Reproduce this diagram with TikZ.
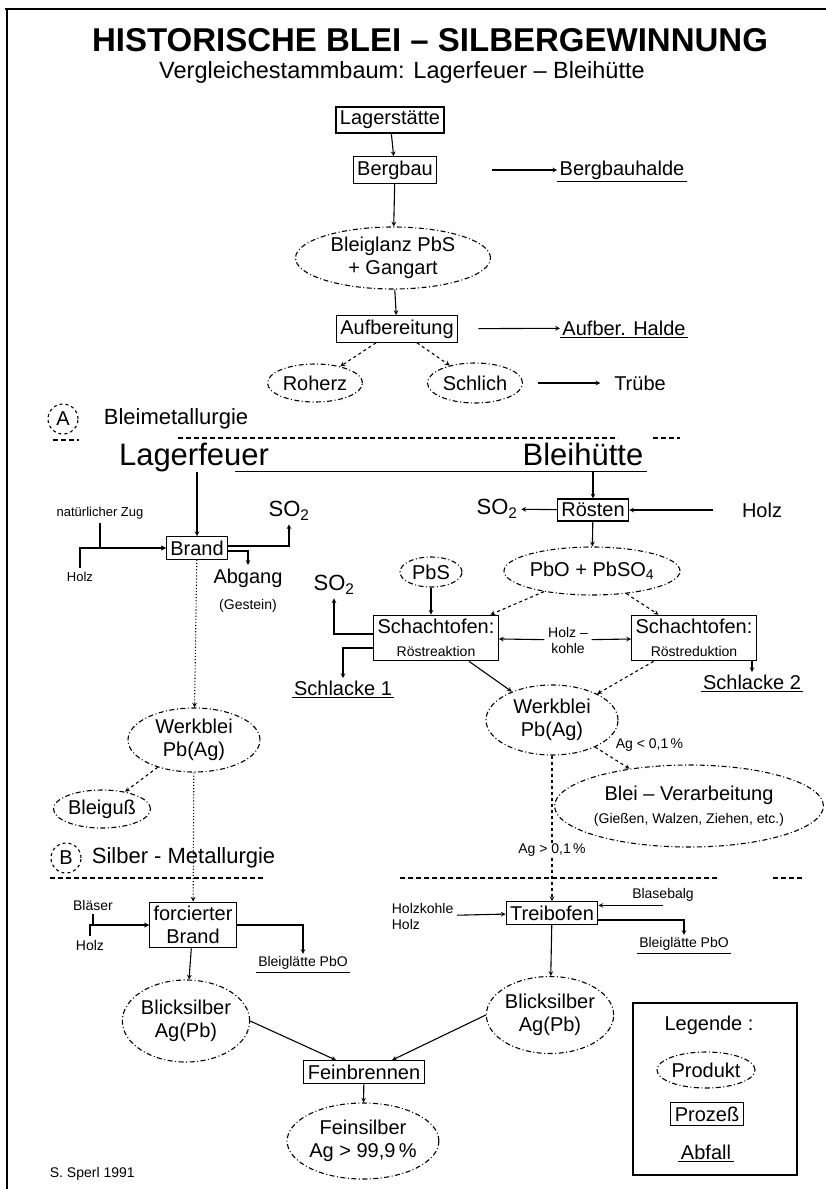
\documentclass[tikz,border=0pt]{standalone}
\usepackage{fontspec}
\setmainfont{Liberation Sans}
\usepackage{tikz}
\usetikzlibrary{arrows,shapes,positioning}

\newcommand{\kleinschrift}{\fontsize{14}{16}\selectfont}

\begin{document}
\begin{tikzpicture}[x=1pt,y=-1pt,line width=1.1pt,>=stealth,
    every node/.style={font=\fontsize{20}{23}\selectfont},
    klein/.style={font=\kleinschrift},
    winzig/.style={font=\fontsize{13}{15}\selectfont},
    gross/.style={font=\fontsize{31}{34}\selectfont,text height=0.75em,text depth=0.22em},
    abschnitt/.style={font=\fontsize{22}{25}\selectfont,anchor=west},
    prozess/.style={draw,rectangle,inner sep=4pt,align=center},
    produkt/.style={draw,ellipse,inner sep=0pt,align=center,
      dash pattern=on 5pt off 2.5pt on 1pt off 2.5pt},
    abfall/.style={inner sep=2pt,
      append after command={(\tikzlastnode.south west) edge[-] (\tikzlastnode.south east)}},
    trenner/.style={dash pattern=on 5pt off 3pt}]
  \useasboundingbox (0,0) rectangle (826,1189);

  % frame, only top and left edge
  \draw[line width=1.6pt] (5,9) -- (826,9);
  \draw[line width=1.6pt] (7,9) -- (7,1189);

  % title
  \node[font=\fontsize{33}{36}\selectfont\bfseries] (titel) at (430,40) {HISTORISCHE BLEI – SILBERGEWINNUNG};
  \node[font=\fontsize{23.5}{26}\selectfont] (untertitel) at (402,72) {Vergleichestammbaum: Lagerfeuer – Bleihütte};

  % mining and ore dressing
  \node[prozess] (lagerstaette) at (390,120) {Lagerstätte};
  \node[prozess] (bergbau) at (395,170) {Bergbau};
  \node[abfall] (bergbauhalde) at (622,170) {Bergbauhalde};
  \node[produkt,minimum width=195,minimum height=62] (bleiglanz) at (393,258) {Bleiglanz PbS\\+ Gangart};
  \node[prozess] (aufbereitung) at (397,329) {Aufbereitung};
  \node[abfall] (aufberhalde) at (624,328) {Aufber. Halde};
  \node[produkt,minimum width=95,minimum height=38] (roherz) at (315,383) {Roherz};
  \node[produkt,minimum width=95,minimum height=40] (schlich) at (475,383) {Schlich};
  \node (truebe) at (640,383) {Trübe};

  \draw[->] (lagerstaette) -- (bergbau);
  \draw[->,shorten <=55pt] (bergbau) -- (bergbauhalde);
  \draw[->] (bergbau) -- (bleiglanz);
  \draw[->] (bleiglanz) -- (aufbereitung);
  \draw[->,shorten <=20pt] (aufbereitung) -- (aufberhalde);
  \draw[->,dashed] (aufbereitung) -- (roherz);
  \draw[->,dashed] (aufbereitung) -- (schlich);
  \draw[->,shorten <=15pt,shorten >=10pt] (schlich) -- (truebe);

  % part A
  \node[draw,circle,dashed,minimum size=30,inner sep=0pt] (kreisA) at (63,419) {A};
  \node[abschnitt] (bleimetallurgie) at (100,419) {Bleimetallurgie};
  \draw[trenner] (53,440) -- (79,440);
  \draw[trenner] (178,438) -- (618,438);
  \draw[trenner] (653,438) -- (680,438);

  \node[gross] (lagerfeuer) at (194,463) {Lagerfeuer};
  \node[gross] (bleihuette) at (583,463) {Bleihütte};
  \draw ([xshift=-38pt]lagerfeuer.south east) -- (bleihuette.south east);

  % campfire: open burning
  \node[winzig] (natzug) at (100,513) {natürlicher Zug};
  \node[winzig] (holzA) at (80,577) {Holz};
  \node[prozess] (brand) at (197,548) {Brand};
  \node[font=\fontsize{22}{24}\selectfont] (so2a) at (289,511) {SO\textsubscript{2}};
  \node (abgang) at (248,578) {Abgang};
  \node[klein] (gestein) at (248,606) {(Gestein)};

  \draw[->] (brand |- lagerfeuer.south) -- (brand);
  \draw[->] (natzug.south) |- (brand.west);
  \draw[->] (holzA.north) |- (brand.west);
  \draw[->] ([yshift=2pt]brand.east) -| (so2a.south);
  \draw[->] ([yshift=-3pt]brand.east) -| (abgang.north);

  % smelter: roasting and shaft furnaces
  \node[prozess] (roesten) at (593,510) {Rösten};
  \node[font=\fontsize{22}{24}\selectfont] (so2b) at (497,509) {SO\textsubscript{2}};
  \node (holzB) at (762,510) {Holz};
  \node[produkt,minimum width=168,minimum height=48] (pbo) at (592,571) {PbO + PbSO\textsubscript{4}};
  \node[produkt,minimum width=62,minimum height=30] (pbs) at (431,572) {PbS};
  \node[font=\fontsize{22}{24}\selectfont] (so2c) at (334,585) {SO\textsubscript{2}};
  \node[prozess] (schachtL) at (436,638) {Schachtofen:\\{\kleinschrift Röstreaktion}};
  \node[prozess] (schachtR) at (694,638) {Schachtofen:\\{\kleinschrift Röstreduktion}};
  \node[klein,align=center] (holzkohle) at (568,640) {Holz –\\kohle};
  \node[abfall] (schlacke1) at (343,688) {Schlacke 1};
  \node[abfall] (schlacke2) at (752,682) {Schlacke 2};

  \draw[->] (roesten |- bleihuette.south) -- (roesten);
  \draw[->] (roesten) -- (so2b);
  \draw[->,shorten <=25pt] (holzB) -- (roesten);
  \draw[->] (roesten) -- (pbo);
  \draw[->] (pbs) -- (pbs |- schachtL.north);
  \draw[->,dashed] (pbo) -- (schachtL);
  \draw[->,dashed] (pbo) -- (schachtR);
  \draw[->] (holzkohle) -- (schachtL);
  \draw[->] (holzkohle) -- (schachtR);
  \draw[->] ([yshift=4pt]schachtL.west) -| (so2c.south);
  \draw[->] ([yshift=-10pt]schachtL.west) -| (schlacke1.north);
  \draw[->] (schlacke2 |- schachtR.south) -- (schlacke2.north);

  % lead bullion
  \node[produkt,minimum width=132,minimum height=70] (werkbleiR) at (552,720) {Werkblei\\Pb(Ag)};
  \node[produkt,minimum width=232,minimum height=82] (verarbeitung) at (689,806) {Blei – Verarbeitung\\{\kleinschrift (Gießen, Walzen, Ziehen, etc.)}};
  \node[produkt,minimum width=132,minimum height=64] (werkbleiL) at (194,740) {Werkblei\\Pb(Ag)};
  \node[produkt,minimum width=97,minimum height=38] (bleiguss) at (102,809) {Bleiguß};

  \draw[->] (schachtL) -- (werkbleiR);
  \draw[->,dashed] (schachtR) -- (werkbleiR);
  \draw[->,dashed] (werkbleiR) -- node[pos=0.4,anchor=south west,xshift=3pt,klein] {Ag < 0,1\,\%} (verarbeitung);
  \draw[->,dotted] (brand) -- (werkbleiL);
  \draw[->,dashed] (werkbleiL) -- (bleiguss);

  % part B
  \node[draw,circle,dashed,minimum size=30,inner sep=0pt] (kreisB) at (66,858) {B};
  \node[abschnitt] (silbermetallurgie) at (88,858) {Silber - Metallurgie};
  \draw[trenner] (50,878) -- (265,878);
  \draw[trenner] (400,878) -- (717,878);
  \draw[trenner] (773,878) -- (805,878);

  % campfire: cupellation
  \node[prozess] (forcbrand) at (193,925) {forcierter\\Brand};
  \node[klein] (blaeser) at (93,905) {Bläser};
  \node[klein] (holzC) at (90,945) {Holz};
  \node[abfall,klein] (glaetteL) at (303,963) {Bleiglätte PbO};
  \node[produkt,minimum width=125,minimum height=82] (blickL) at (186,1021) {Blicksilber\\Ag(Pb)};

  \draw[->,dotted] (werkbleiL) -- (forcbrand);
  \draw[->] (blaeser.south) |- (forcbrand.west);
  \draw[->] (holzC.north) |- (forcbrand.west);
  \draw[->] (forcbrand.east) -| (glaetteL.north);
  \draw[->] (forcbrand) -- (blickL);

  % smelter: cupellation furnace
  \node[prozess] (treibofen) at (552,913) {Treibofen};
  \node[klein,align=left,anchor=west] (holzkohleB) at (388,916) {Holzkohle\\Holz};
  \node[klein] (blasebalg) at (663,895) {Blasebalg};
  \node[abfall,klein] (glaetteR) at (684,944) {Bleiglätte PbO};
  \node[produkt,minimum width=124,minimum height=77] (blickR) at (550,1015) {Blicksilber\\Ag(Pb)};

  \draw[->,dashed] (werkbleiR) -- node[pos=0.65,fill=white,inner sep=1pt,klein] {Ag > 0,1\,\%} (treibofen);
  \draw[->] (holzkohleB) -- (treibofen);
  \draw[->] (blasebalg.south) -- (blasebalg.south -| treibofen.east);
  \draw[->] ([yshift=-7pt]treibofen.east) -| (glaetteR.north);
  \draw[->] (treibofen) -- (blickR);

  % refining
  \node[prozess] (feinbrennen) at (364,1072) {Feinbrennen};
  \node[produkt,minimum width=132,minimum height=76] (feinsilber) at (363,1141) {Feinsilber\\Ag > 99,9\,\%};

  \draw[->] (blickL.east) -- ([xshift=-28pt]feinbrennen.north);
  \draw[->] (blickR.west) -- ([xshift=28pt]feinbrennen.north);
  \draw[->] (feinbrennen) -- (feinsilber);

  % legend
  \node[draw,minimum width=164,minimum height=172] (legende) at (715,1089) {};
  \node (legtitel) at (709,1025) {Legende :};
  \node[produkt,minimum width=98,minimum height=36] (legprodukt) at (706,1070) {Produkt};
  \node[prozess] (legprozess) at (707,1114) {Prozeß};
  \node[abfall] (legabfall) at (706,1152) {Abfall};

  % signature
  \node[klein,anchor=west] (signatur) at (46,1174) {S. Sperl 1991};
\end{tikzpicture}
\end{document}
